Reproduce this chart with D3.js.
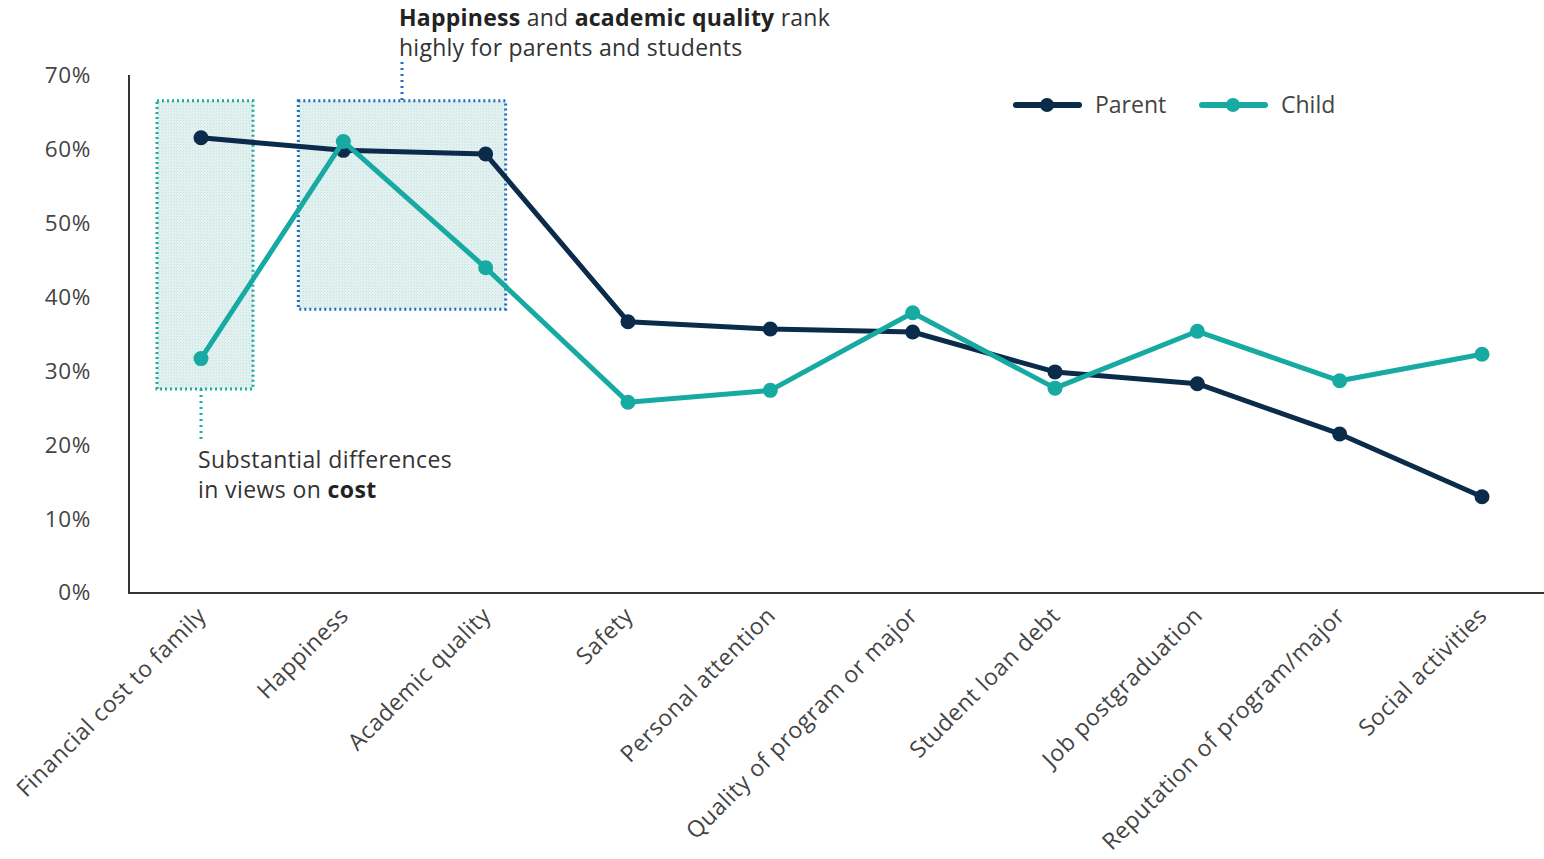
<!DOCTYPE html>
<html><head><meta charset="utf-8">
<script src="https://cdn.jsdelivr.net/npm/d3@7"></script>
<style>
body{margin:0;background:#fff;}
text{font-family:"Open Sans","Noto Sans",sans-serif;}
</style></head>
<body><svg id="c" width="1544" height="859"></svg>
<script>
const categories = ["Financial cost to family","Happiness","Academic quality","Safety","Personal attention","Quality of program or major","Student loan debt","Job postgraduation","Reputation of program/major","Social activities"];
const parentValues = [61.5, 59.8, 59.3, 36.6, 35.6, 35.2, 29.8, 28.2, 21.4, 12.9];
const childValues = [31.6, 61.0, 43.9, 25.7, 27.3, 37.8, 27.6, 35.3, 28.6, 32.2];
const yTicks = [0,10,20,30,40,50,60,70];
const seriesNames = ["Parent","Child"];
const colors = {Parent:"#0b2b4b", Child:"#16aaa2"};

const svg = d3.select("#c");
const x = d3.scalePoint().domain(categories).range([201,1482]);
const y = d3.scaleLinear().domain([0,70]).range([592,75]);

// pattern fill for boxes
const defs = svg.append("defs");
const pat = defs.append("pattern").attr("id","hatch").attr("width",3).attr("height",3).attr("patternUnits","userSpaceOnUse");
pat.append("rect").attr("width",3).attr("height",3).attr("fill","#e3f1f0");
pat.append("rect").attr("width",1).attr("height",1).attr("fill","#c6e3e1");
pat.append("rect").attr("x",2).attr("y",1).attr("width",1).attr("height",1).attr("fill","#d3e9e8");

// annotation boxes
svg.append("rect").attr("x",x(categories[0])-44).attr("y",y(66.5)).attr("width",96).attr("height",y(27.5)-y(66.5))
  .attr("fill","url(#hatch)").attr("stroke","#1aaba3").attr("stroke-width",3).attr("stroke-dasharray","2,3");
svg.append("rect").attr("x",x(categories[1])-45).attr("y",y(66.5)).attr("width",x(categories[2])-x(categories[1])+65).attr("height",y(38.3)-y(66.5))
  .attr("fill","url(#hatch)").attr("stroke","#1f6dc0").attr("stroke-width",3).attr("stroke-dasharray","2,3");
// connectors
svg.append("line").attr("x1",201).attr("x2",201).attr("y1",y(27.5)).attr("y2",440)
  .attr("stroke","#1aaba3").attr("stroke-width",3).attr("stroke-dasharray","2,4");
svg.append("line").attr("x1",402).attr("x2",402).attr("y1",62).attr("y2",y(66.5))
  .attr("stroke","#1f6dc0").attr("stroke-width",3).attr("stroke-dasharray","2,4");

// axes
const yAxis = svg.append("g").attr("transform","translate(129,0)")
  .call(d3.axisLeft(y).tickValues(yTicks).tickSize(0).tickPadding(38).tickFormat(d=>d+"%"));
yAxis.select(".domain").remove();
yAxis.selectAll("text").attr("font-size",22.5).attr("letter-spacing","0.6px").attr("fill","#444").attr("dy","0.35em");
svg.append("line").attr("x1",129).attr("x2",129).attr("y1",75).attr("y2",593).attr("stroke","#333").attr("stroke-width",2);
svg.append("line").attr("x1",128).attr("x2",1544).attr("y1",593).attr("y2",593).attr("stroke","#333").attr("stroke-width",2);

const xAxis = svg.append("g").attr("transform","translate(0,593)")
  .call(d3.axisBottom(x).tickSize(0).tickFormat(d=>d));
xAxis.select(".domain").remove();
xAxis.selectAll("text").attr("font-size",23).attr("letter-spacing","0.55px").attr("fill","#444")
  .attr("text-anchor","end").attr("dy",0).attr("y",0)
  .attr("transform","translate(6,24) rotate(-45)");

// lines
const line = d3.line().x((d,i)=>x(categories[i])).y(d=>y(d));
const series = [{name:"Parent",values:parentValues},{name:"Child",values:childValues}];
series.forEach(s=>{
  svg.append("path").attr("d",line(s.values)).attr("fill","none").attr("stroke",colors[s.name]).attr("stroke-width",5).attr("stroke-linejoin","round");
  svg.selectAll(null).data(s.values).enter().append("circle")
    .attr("cx",(d,i)=>x(categories[i])).attr("cy",d=>y(d)).attr("r",7.5).attr("fill",colors[s.name]);
});

// legend
const legX = [1016,1202];
seriesNames.forEach((n,i)=>{
  const g = svg.append("g").attr("transform",`translate(${legX[i]},105)`);
  g.append("line").attr("x1",0).attr("x2",63).attr("stroke",colors[n]).attr("stroke-width",6).attr("stroke-linecap","round");
  g.append("circle").attr("cx",31).attr("r",7).attr("fill",colors[n]);
  g.append("text").attr("x",79).attr("dy","0.35em").attr("font-size",23).attr("fill","#444").text(n);
});

// annotation texts
const t1 = svg.append("text").attr("x",399).attr("y",26).attr("font-size",23).attr("letter-spacing","0.25px").attr("fill","#333");
t1.append("tspan").attr("font-weight","bold").attr("fill","#222").text("Happiness");
t1.append("tspan").text(" and ");
t1.append("tspan").attr("font-weight","bold").attr("fill","#222").text("academic quality");
t1.append("tspan").text(" rank");
svg.append("text").attr("x",399).attr("y",56).attr("font-size",23).attr("letter-spacing","0.25px").attr("fill","#333").text("highly for parents and students");

svg.append("text").attr("x",198).attr("y",468).attr("font-size",23).attr("letter-spacing","0.4px").attr("fill","#333").text("Substantial differences");
const t2 = svg.append("text").attr("x",198).attr("y",498).attr("font-size",23).attr("letter-spacing","0.4px").attr("fill","#333");
t2.append("tspan").text("in views on ");
t2.append("tspan").attr("font-weight","bold").attr("fill","#222").text("cost");
</script></body></html>
